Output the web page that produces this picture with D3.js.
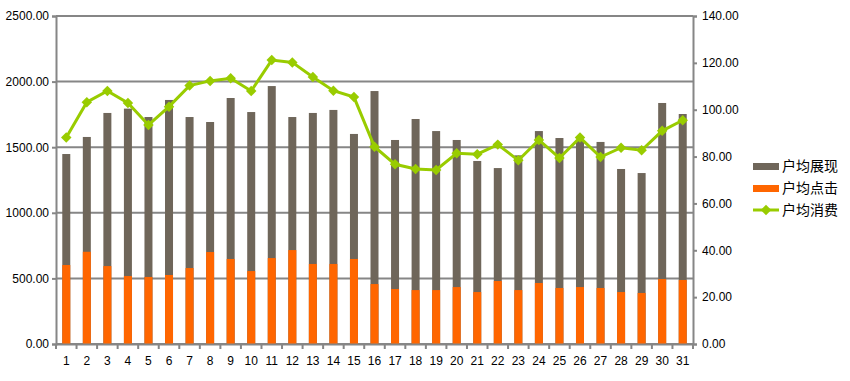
<!DOCTYPE html>
<html><head><meta charset="utf-8">
<script src="https://cdn.jsdelivr.net/npm/d3@7"></script>
<style>body{margin:0;background:#fff}svg{display:block}text{font-family:"Liberation Sans",Arial,sans-serif}</style>
</head><body><svg id="c" width="850" height="381"></svg>
<script>
const days = d3.range(1, 32).map(String);
const impressions = [1448,1578,1761,1794,1730,1860,1730,1692,1875,1768,1966,1730,1761,1784,1601,1928,1555,1715,1623,1555,1395,1341,1438,1623,1570,1550,1540,1334,1303,1837,1753];
const clicks = [602,703,594,518,511,526,579,701,648,556,655,716,610,610,648,457,419,411,411,434,396,480,411,465,427,434,427,396,389,495,488];
const spend = [88.1,103.2,108.0,102.9,93.5,101.3,110.3,112.3,113.4,108.0,121.2,120.2,114.0,108.1,105.4,84.2,76.7,74.7,74.3,81.4,81.0,85.1,78.4,87.1,79.4,88.1,79.8,83.8,82.7,91.0,95.5];
const leftTicks = [0,500,1000,1500,2000,2500];
const rightTicks = [0,20,40,60,80,100,120,140];
const seriesNames = ["户均展现","户均点击","户均消费"];
const colors = {imp:"#6f665a", clk:"#ff6600", line:"#99cc00", axis:"#868686"};

const svg = d3.select("#c");
const L = 56, R = 693, T = 16, B = 344;
const x = d3.scaleBand().domain(days).range([L, R]);
const yL = d3.scaleLinear().domain([0, 2500]).range([B, T]);
const yR = d3.scaleLinear().domain([0, 140]).range([B, T]);
const bw = 8;

// gridlines
svg.append("g").selectAll("line").data(leftTicks).join("line")
  .attr("x1", L).attr("x2", R).attr("y1", d => yL(d)).attr("y2", d => yL(d))
  .attr("stroke", colors.axis).attr("stroke-width", 2);

// bars
svg.append("g").selectAll("rect").data(impressions).join("rect")
  .attr("x", (d,i) => x(days[i]) + x.bandwidth()/2 - bw/2)
  .attr("width", bw).attr("y", d => yL(d)).attr("height", d => B - yL(d))
  .attr("fill", colors.imp);
svg.append("g").selectAll("rect").data(clicks).join("rect")
  .attr("x", (d,i) => x(days[i]) + x.bandwidth()/2 - bw/2)
  .attr("width", bw).attr("y", d => yL(d)).attr("height", d => B - yL(d))
  .attr("fill", colors.clk);

// axes
function styleAxis(g){
  g.select(".domain").attr("stroke", colors.axis).attr("stroke-width", 2);
  g.selectAll(".tick line").attr("stroke", colors.axis).attr("stroke-width", 2);
  g.selectAll("text").attr("fill", "#000").style("font-size", "12px");
}
const axL = svg.append("g").attr("transform", `translate(${L},0)`)
  .call(d3.axisLeft(yL).tickValues(leftTicks).tickFormat(d3.format(".2f")).tickSizeOuter(0).tickSize(4).tickPadding(3));
styleAxis(axL);
const axR = svg.append("g").attr("transform", `translate(${R},0)`)
  .call(d3.axisRight(yR).tickValues(rightTicks).tickFormat(d3.format(".2f")).tickSizeOuter(0).tickSize(4).tickPadding(5));
styleAxis(axR);
const axB = svg.append("g").attr("transform", `translate(0,${B})`)
  .call(d3.axisBottom(x).tickSize(0).tickPadding(12));
styleAxis(axB);
// band boundary ticks
svg.append("g").selectAll("line").data(d3.range(days.length + 1)).join("line")
  .attr("x1", i => L + i * x.step()).attr("x2", i => L + i * x.step())
  .attr("y1", B).attr("y2", B + 5).attr("stroke", colors.axis).attr("stroke-width", 2);

// line
const line = d3.line().x((d,i) => x(days[i]) + x.bandwidth()/2).y(d => yR(d));
svg.append("path").datum(spend).attr("d", line).attr("fill", "none")
  .attr("stroke", colors.line).attr("stroke-width", 3);
const diamond = d3.symbol().type(d3.symbolDiamond2).size(70);
svg.append("g").selectAll("path").data(spend).join("path")
  .attr("transform", (d,i) => `translate(${x(days[i]) + x.bandwidth()/2},${yR(d)})`)
  .attr("d", diamond).attr("fill", colors.line);

// legend
const lg = svg.append("g");
const ly = [166, 188, 210];
lg.append("rect").attr("x", 753).attr("y", ly[0]-3).attr("width", 26).attr("height", 7).attr("fill", colors.imp);
lg.append("rect").attr("x", 753).attr("y", ly[1]-3).attr("width", 26).attr("height", 7).attr("fill", colors.clk);
lg.append("line").attr("x1", 753).attr("x2", 779).attr("y1", ly[2]).attr("y2", ly[2]).attr("stroke", colors.line).attr("stroke-width", 3);
lg.append("path").attr("transform", `translate(766,${ly[2]})`).attr("d", diamond).attr("fill", colors.line);
lg.selectAll("text").data(seriesNames).join("text")
  .attr("x", 782).attr("y", (d,i) => ly[i]).attr("dy", "0.35em")
  .style("font-size", "14px").style("font-family", "'Noto Sans CJK SC',sans-serif").text(d => d);
</script></body></html>
